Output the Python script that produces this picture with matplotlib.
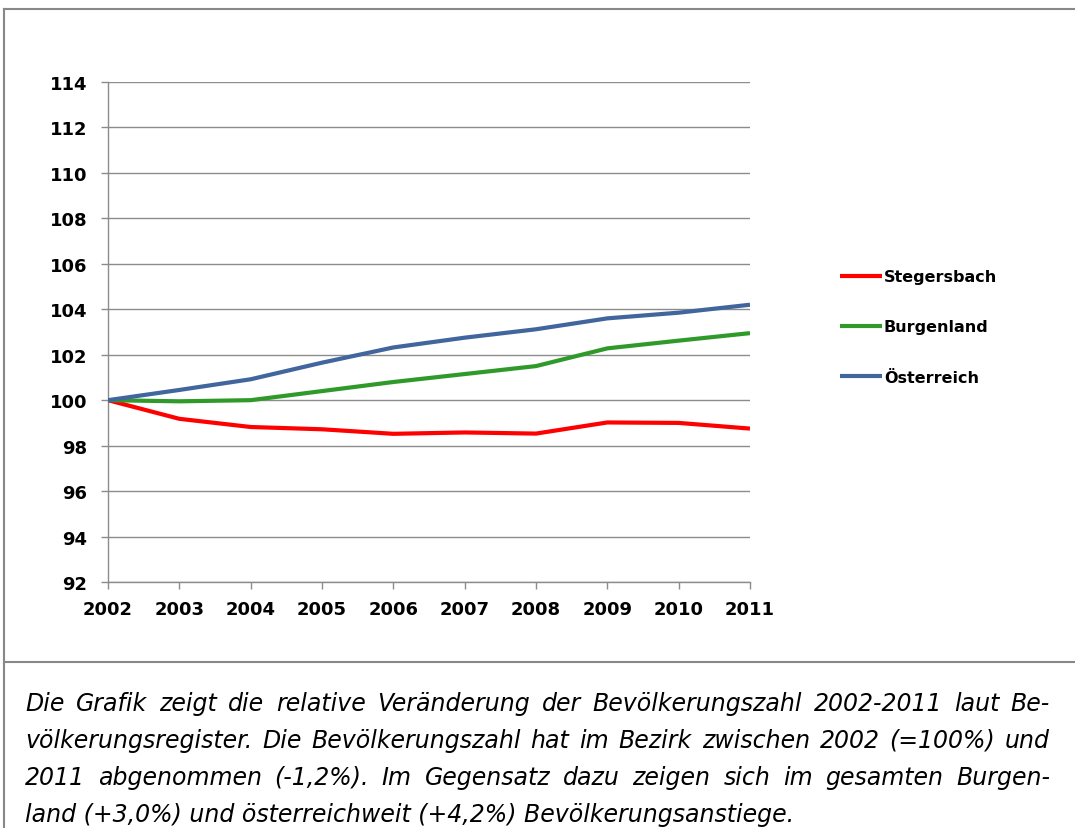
import matplotlib
matplotlib.use("Agg")
import matplotlib.pyplot as plt
from matplotlib.lines import Line2D

years = [2002, 2003, 2004, 2005, 2006, 2007, 2008, 2009, 2010, 2011]
stegersbach = [100.0, 99.18, 98.82, 98.72, 98.52, 98.58, 98.53, 99.02, 99.0, 98.75]
burgenland = [100.0, 99.95, 100.0, 100.4, 100.8, 101.15, 101.5, 102.28, 102.62, 102.95]
oesterreich = [100.0, 100.45, 100.92, 101.65, 102.32, 102.75, 103.12, 103.6, 103.85, 104.2]
labels = ["Stegersbach", "Burgenland", "Österreich"]
colors = ["#ff0000", "#2f9a2a", "#41659d"]
yticks = list(range(92, 115, 2))

caption = [
    "Die Grafik zeigt die relative Veränderung der Bevölkerungszahl 2002-2011 laut Be-",
    "völkerungsregister. Die Bevölkerungszahl hat im Bezirk zwischen 2002 (=100%) und",
    "2011 abgenommen (-1,2%). Im Gegensatz dazu zeigen sich im gesamten Burgen-",
    "land (+3,0%) und österreichweit (+4,2%) Bevölkerungsanstiege.",
]

W, H = 1075, 829
fig = plt.figure(figsize=(W / 100, H / 100), dpi=100)

# frame round chart and caption
frame = "#888888"
fig.add_artist(Line2D([4 / W, 1.0], [1 - 10 / H] * 2, color=frame, lw=1.5, transform=fig.transFigure))
fig.add_artist(Line2D([4 / W] * 2, [0, 1 - 10 / H], color=frame, lw=1.5, transform=fig.transFigure))
fig.add_artist(Line2D([4 / W, 1.0], [1 - 663 / H] * 2, color=frame, lw=1.5, transform=fig.transFigure))

ax = fig.add_axes([108 / W, 1 - 583 / H, (750 - 108) / W, (583 - 83) / H])
series = [stegersbach, burgenland, oesterreich]
for vals, lab, col in zip(series, labels, colors):
    ax.plot(years, vals, color=col, lw=3, label=lab, solid_capstyle="butt", zorder=3)

ax.set_xlim(2002, 2011)
ax.set_ylim(92, 114)
ax.set_xticks(years)
ax.set_yticks(yticks)
ax.grid(axis="y", color="#8c8c8c", lw=1)
ax.set_axisbelow(True)
for s in ["top", "right"]:
    ax.spines[s].set_visible(False)
for s in ["left", "bottom"]:
    ax.spines[s].set_color("#8c8c8c")
    ax.spines[s].set_linewidth(1)
ax.tick_params(axis="both", color="#8c8c8c", length=5, width=1, labelsize=13)
ax.tick_params(axis="y", pad=10)
ax.tick_params(axis="x", pad=8)
for t in ax.get_xticklabels() + ax.get_yticklabels():
    t.set_fontweight("bold")

leg = ax.legend(loc="center left", bbox_to_anchor=(832 / W, 1 - 328 / H),
                bbox_transform=fig.transFigure, frameon=False,
                prop={"weight": "bold", "size": 11.5}, handlelength=2.6,
                handletextpad=0.15, labelspacing=2.2, borderpad=0)

# caption, justified like the original
fig.canvas.draw()
r = fig.canvas.get_renderer()
left, right = 25, 1050
fs = 17
for i, line in enumerate(caption):
    y = 1 - (704 + 37 * i) / H
    words = line.split(" ")
    if i == len(caption) - 1:
        fig.text(left / W, y, line, fontsize=fs, style="italic", va="center", ha="left")
        continue
    arts = [fig.text(0, y, w, fontsize=fs, style="italic", va="center", ha="left") for w in words]
    widths = [a.get_window_extent(r).width for a in arts]
    gap = (right - left - sum(widths)) / (len(words) - 1)
    x = left
    for a, w in zip(arts, widths):
        a.set_x(x / W)
        x += w + gap

fig.savefig("out.png", dpi=100)
